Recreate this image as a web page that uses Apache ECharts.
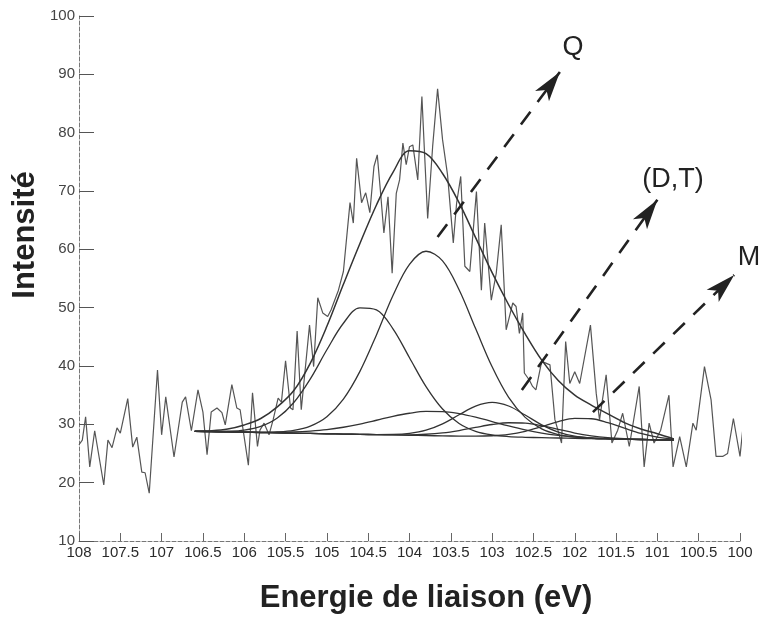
<!DOCTYPE html>
<html>
<head>
<meta charset="utf-8">
<script src="https://cdn.jsdelivr.net/npm/echarts@6/dist/echarts.min.js"></script>
<style>
html,body{margin:0;padding:0;background:#fff;}
#chart{width:763px;height:617px;}
</style>
</head>
<body>
<div id="chart"></div>
<script>
// Measured spectrum (binding energy eV, intensity)
const specE = [108.0,107.96,107.92,107.87,107.81,107.70,107.65,107.60,107.54,107.50,107.41,107.35,107.30,107.24,107.20,107.15,107.05,107.00,106.95,106.85,106.75,106.71,106.64,106.56,106.50,106.45,106.40,106.33,106.27,106.23,106.15,106.09,106.05,105.95,105.90,105.84,105.81,105.76,105.70,105.65,105.59,105.55,105.50,105.44,105.41,105.36,105.31,105.21,105.16,105.11,105.05,104.99,104.95,104.86,104.80,104.72,104.68,104.64,104.58,104.53,104.48,104.43,104.39,104.35,104.31,104.26,104.21,104.16,104.12,104.08,104.04,104.00,103.96,103.90,103.85,103.82,103.78,103.72,103.66,103.60,103.54,103.47,103.43,103.38,103.33,103.27,103.19,103.13,103.09,103.01,102.95,102.89,102.83,102.75,102.71,102.67,102.63,102.61,102.55,102.51,102.47,102.40,102.30,102.24,102.16,102.11,102.06,102.00,101.94,101.81,101.74,101.70,101.62,101.58,101.55,101.48,101.42,101.34,101.22,101.16,101.10,101.04,100.96,100.86,100.81,100.73,100.65,100.57,100.53,100.43,100.35,100.29,100.21,100.15,100.08,100.00,99.93];
const specI = [26.5,27.3,31.3,22.7,28.9,19.6,27.3,26.0,29.4,28.5,34.4,26.1,27.8,21.8,21.7,18.2,39.3,28.2,34.7,24.4,33.8,34.7,28.9,35.9,32.1,24.8,32.1,32.8,32.0,29.9,36.8,32.8,32.5,23.0,35.4,26.2,29.0,30.2,28.2,30.8,34.5,33.8,40.9,32.8,32.5,46.0,32.5,47.0,39.9,51.7,49.1,48.5,49.6,53.0,56.2,68.0,64.5,75.6,68.0,69.7,66.3,74.2,76.2,69.7,62.8,69.0,55.9,69.6,71.9,78.2,74.5,77.6,77.9,71.9,86.2,77.1,65.3,77.6,87.5,78.8,72.8,61.1,67.9,72.5,57.1,56.2,69.9,53.0,64.5,51.3,55.9,64.2,46.2,50.8,50.2,45.6,49.1,38.8,37.6,36.5,35.9,40.8,40.2,30.8,26.8,44.2,37.0,39.0,37.0,47.0,35.3,30.8,38.5,31.9,26.8,29.0,31.9,26.2,36.5,22.7,30.2,26.8,29.0,35.0,22.7,27.9,22.7,30.2,29.0,39.9,34.2,24.5,24.5,25.0,31.0,24.5,34.2];

// Fitted curves, read at these energies
const fitE = [106.6,106.4,106.2,106.0,105.8,105.6,105.4,105.2,105.0,104.8,104.6,104.4,104.2,104.0,103.8,103.6,103.4,103.2,103.0,102.8,102.6,102.4,102.2,102.0,101.8,101.6,101.4,101.2,101.0,100.8];
const envelope = [28.8,28.9,29.2,29.9,31.0,33.0,35.8,40.5,46.8,54.0,61.0,67.6,73.2,76.9,76.4,73.0,68.0,62.0,56.0,50.5,45.5,41.0,37.5,35.0,33.3,31.8,30.3,29.2,28.4,27.5];
const peak1 = [28.8,28.78,28.82,29.02,29.65,31.09,33.75,37.8,42.78,47.33,49.98,49.63,46.38,41.42,36.47,32.62,30.13,28.8,28.17,27.9,27.78,27.71,27.66,27.6,27.55,27.5,27.45,27.4,27.34,27.29];
const peak2 = [28.8,28.75,28.7,28.65,28.64,28.7,28.97,29.71,31.32,34.33,39.08,45.33,52.08,57.42,59.67,58.02,53.07,46.42,39.86,34.61,31.19,29.22,28.25,27.8,27.61,27.52,27.45,27.4,27.34,27.29];
const peak3 = [28.8,28.76,28.71,28.66,28.63,28.64,28.69,28.84,29.09,29.5,30.05,30.7,31.37,31.9,32.21,32.19,31.85,31.24,30.48,29.72,29.04,28.5,28.11,27.84,27.66,27.55,27.47,27.4,27.34,27.29];
const peak4 = [28.8,28.75,28.7,28.64,28.59,28.54,28.49,28.44,28.38,28.33,28.28,28.25,28.27,28.45,28.99,30.08,31.64,33.13,33.76,33.14,31.59,29.91,28.67,27.97,27.66,27.52,27.45,27.4,27.34,27.29];
const peak5 = [28.8,28.75,28.7,28.64,28.59,28.54,28.49,28.44,28.38,28.33,28.28,28.24,28.21,28.21,28.3,28.53,28.94,29.47,29.97,30.27,30.2,29.77,29.15,28.51,28.03,27.71,27.53,27.43,27.34,27.29];
const peak6 = [28.8,28.75,28.7,28.64,28.59,28.54,28.49,28.44,28.38,28.33,28.28,28.23,28.18,28.12,28.07,28.02,27.98,27.97,28.04,28.28,28.8,29.6,30.46,31.01,30.96,30.3,29.34,28.44,27.81,27.47];

// Annotation arrows (start / end in data coords) and labels
const arrowNames = ['Q', '(D,T)', 'M'];
const arrowStart = [[103.66, 62.1], [102.64, 35.9], [101.78, 32.1]];
const arrowEnd = [[102.18, 90.4], [101.0, 68.5], [100.07, 55.6]];

const zip = (xs, ys) => xs.map((x, i) => [x, ys[i]]);
const FONT = '"Liberation Sans", Arial, Helvetica, sans-serif';

const chart = echarts.init(document.getElementById('chart'), null, {renderer: 'canvas'});

const fitSeries = [peak1, peak2, peak3, peak4, peak5, peak6].map((p, k) => ({
  name: 'Pic ' + (k + 1),
  type: 'line',
  data: zip(fitE, p),
  smooth: 0.35,
  showSymbol: false,
  lineStyle: {color: '#333', width: 1.3},
  z: 3
}));

const option = {
  animation: false,
  backgroundColor: '#fff',
  grid: {left: 79, right: 23, top: 16, bottom: 76, containLabel: false},
  xAxis: {
    type: 'value', inverse: true, min: 100, max: 108, interval: 0.5,
    axisLine: {lineStyle: {color: '#777', width: 1, type: 'dashed'}},
    axisTick: {inside: true, length: 8, lineStyle: {color: '#666'}},
    axisLabel: {color: '#2a2a2a', fontSize: 15, fontFamily: FONT, margin: 4},
    splitLine: {show: false}
  },
  yAxis: {
    type: 'value', min: 10, max: 100, interval: 10,
    axisLine: {show: true, lineStyle: {color: '#777', width: 1, type: 'dashed'}},
    axisTick: {show: true, inside: true, length: 15, lineStyle: {color: '#555'}},
    axisLabel: {color: '#444', fontSize: 15, fontFamily: FONT, margin: 4},
    splitLine: {show: false}
  },
  series: [
    {
      name: 'Spectre', type: 'line', data: zip(specE, specI),
      showSymbol: false, clip: false,
      lineStyle: {color: '#555', width: 1.2}, z: 2
    },
    {
      name: 'Enveloppe', type: 'line', data: zip(fitE, envelope),
      smooth: 0.35, showSymbol: false,
      lineStyle: {color: '#333', width: 1.5}, z: 4
    },
    ...fitSeries,
    {
      name: 'Flèches', type: 'line', data: [],
      markLine: {
        silent: true, animation: false,
        symbol: ['none', 'arrow'], symbolSize: [13, 30],
        label: {show: false},
        lineStyle: {color: '#222', width: 2.6, type: [16, 12]},
        data: arrowNames.map((n, i) => [
          {coord: arrowStart[i]},
          {coord: arrowEnd[i]}
        ])
      }
    }
  ],
  graphic: [
    {type: 'text', x: 25, y: 235, rotation: Math.PI / 2,
     style: {text: 'Intensité', font: 'bold 31px ' + FONT, fill: '#222', align: 'center', verticalAlign: 'middle'}},
    {type: 'text', x: 426, y: 598,
     style: {text: 'Energie de liaison (eV)', font: 'bold 31px ' + FONT, fill: '#222', align: 'center', verticalAlign: 'middle'}},
    {type: 'text', x: 573, y: 48,
     style: {text: arrowNames[0], font: '27px ' + FONT, fill: '#222', align: 'center', verticalAlign: 'middle'}},
    {type: 'text', x: 673, y: 180,
     style: {text: arrowNames[1], font: '27px ' + FONT, fill: '#222', align: 'center', verticalAlign: 'middle'}},
    {type: 'text', x: 749, y: 258,
     style: {text: arrowNames[2], font: '27px ' + FONT, fill: '#222', align: 'center', verticalAlign: 'middle'}}
  ]
};
chart.setOption(option);
</script>
</body>
</html>
